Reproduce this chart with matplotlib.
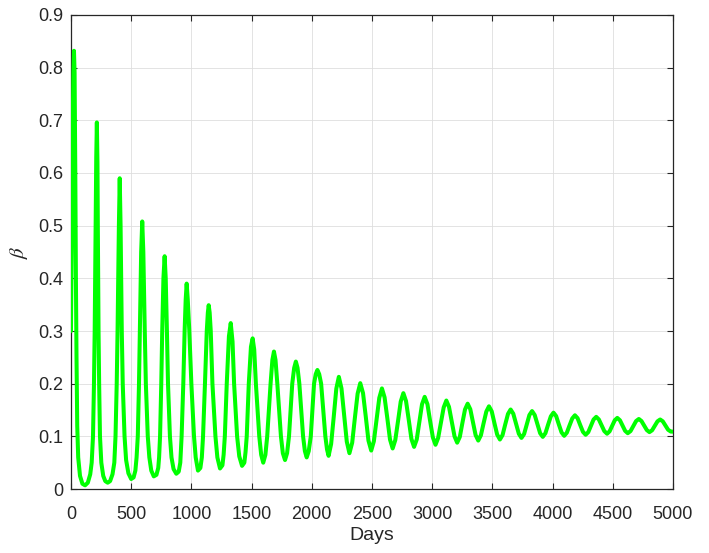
import numpy as np
import matplotlib
matplotlib.use("Agg")
import matplotlib.pyplot as plt

# ---- data ----
peak_day = [25, 215, 405, 592, 778, 961, 1144, 1327, 1509, 1686, 1868, 2047,
            2225, 2403, 2583, 2761, 2938, 3118, 3295, 3472, 3652, 3830, 4008,
            4186, 4363, 4538, 4717, 4894]
peak_beta = [0.832, 0.696, 0.590, 0.508, 0.442, 0.390, 0.349, 0.315, 0.286,
             0.261, 0.242, 0.226, 0.213, 0.201, 0.191, 0.182, 0.175, 0.168,
             0.162, 0.157, 0.151, 0.148, 0.145, 0.140, 0.137, 0.135, 0.133,
             0.132]

trough_day = [117, 305, 500, 688, 875, 1055, 1238, 1421, 1597, 1778, 1958,
              2140, 2313, 2494, 2672, 2850, 3028, 3208, 3383, 3563, 3742, 3919,
              4097, 4275, 4453, 4625, 4805, 4983]
trough_beta = [0.007, 0.012, 0.019, 0.024, 0.029, 0.035, 0.039, 0.044, 0.050,
               0.055, 0.060, 0.063, 0.068, 0.073, 0.077, 0.080, 0.084, 0.088,
               0.092, 0.094, 0.097, 0.099, 0.101, 0.103, 0.105, 0.106, 0.108,
               0.109]

flank_day = [
    0, 8, 15, 20, 30, 36, 41, 46, 52, 60, 75, 95,
    140, 160, 172, 183, 191, 197, 205, 210, 220, 223, 229, 234, 241, 252, 268, 285,
    325, 345, 360, 370, 380, 387, 398, 412, 422, 430, 445, 458, 477,
    520, 535, 545, 555, 565, 572, 583, 601, 613, 622, 638, 651, 667,
    710, 725, 732, 740, 750, 758, 768, 787, 797, 806, 822, 835, 852,
    895, 908, 919, 933, 944, 953, 970, 983, 1000, 1022, 1036,
    1075, 1087, 1097, 1113, 1128, 1137, 1152, 1161, 1175, 1200, 1216,
    1258, 1268, 1278, 1294, 1312, 1342, 1355, 1380, 1398,
    1440, 1450, 1460, 1477, 1495, 1522, 1536, 1564, 1580,
    1615, 1630, 1658, 1673, 1699, 1714, 1744, 1760,
    1795, 1811, 1838, 1854, 1882, 1897, 1928, 1943,
    1975, 1992, 2019, 2033, 2062, 2078, 2113, 2127,
    2161, 2183, 2204, 2247, 2269, 2291,
    2336, 2358, 2381, 2426, 2449, 2471,
    2516, 2539, 2561, 2605, 2628, 2650,
    2694, 2717, 2739, 2783, 2806, 2828,
    2872, 2894, 2916, 2961, 2983, 3006,
    3050, 3073, 3096, 3140, 3163, 3186,
    3230, 3251, 3273, 3317, 3339, 3361,
    3405, 3427, 3450, 3495, 3517, 3540,
    3585, 3607, 3630, 3674, 3697, 3720,
    3764, 3786, 3808, 3852, 3874, 3897,
    3941, 3963, 3986, 4030, 4052, 4075,
    4119, 4141, 4164, 4208, 4230, 4253,
    4297, 4319, 4341, 4385, 4408, 4430,
    4474, 4495, 4517, 4560, 4581, 4603,
    4648, 4671, 4694, 4739, 4761, 4783,
    4827, 4849, 4872, 4916, 4938, 4960,
    5000,
]
flank_beta = [
    0.30, 0.52, 0.70, 0.79, 0.79, 0.60, 0.40, 0.25, 0.12, 0.06, 0.025, 0.010,
    0.012, 0.028, 0.05, 0.10, 0.20, 0.30, 0.50, 0.63, 0.62, 0.50, 0.30, 0.20, 0.10, 0.05, 0.025, 0.015,
    0.015, 0.028, 0.05, 0.10, 0.20, 0.30, 0.50, 0.50, 0.30, 0.20, 0.10, 0.055, 0.03,
    0.022, 0.035, 0.06, 0.10, 0.20, 0.30, 0.45, 0.45, 0.30, 0.20, 0.10, 0.06, 0.035,
    0.027, 0.04, 0.06, 0.10, 0.20, 0.30, 0.40, 0.40, 0.30, 0.20, 0.10, 0.06, 0.038,
    0.033, 0.05, 0.10, 0.20, 0.30, 0.36, 0.36, 0.30, 0.20, 0.10, 0.06,
    0.04, 0.06, 0.10, 0.20, 0.30, 0.335, 0.335, 0.30, 0.20, 0.10, 0.06,
    0.045, 0.065, 0.10, 0.20, 0.29, 0.28, 0.20, 0.10, 0.062,
    0.05, 0.07, 0.10, 0.20, 0.27, 0.265, 0.20, 0.10, 0.065,
    0.065, 0.10, 0.20, 0.245, 0.245, 0.20, 0.10, 0.068,
    0.068, 0.10, 0.20, 0.23, 0.23, 0.20, 0.10, 0.072,
    0.072, 0.10, 0.20, 0.218, 0.218, 0.20, 0.10, 0.075,
    0.0855, 0.138, 0.1905, 0.191, 0.1405, 0.090,
    0.088, 0.1345, 0.181, 0.182, 0.137, 0.092,
    0.0907, 0.132, 0.173, 0.174, 0.134, 0.094,
    0.093, 0.1295, 0.166, 0.167, 0.131, 0.095,
    0.094, 0.1275, 0.161, 0.161, 0.1295, 0.098,
    0.097, 0.126, 0.155, 0.156, 0.128, 0.100,
    0.099, 0.125, 0.151, 0.1515, 0.127, 0.1025,
    0.102, 0.1245, 0.147, 0.1475, 0.1255, 0.1035,
    0.1025, 0.1225, 0.1425, 0.143, 0.124, 0.105,
    0.1045, 0.1225, 0.1405, 0.1405, 0.1235, 0.106,
    0.106, 0.122, 0.138, 0.1385, 0.123, 0.1075,
    0.107, 0.1205, 0.134, 0.1345, 0.1215, 0.1085,
    0.108, 0.120, 0.132, 0.132, 0.121, 0.110,
    0.1095, 0.120, 0.1305, 0.1305, 0.1205, 0.1105,
    0.110, 0.1195, 0.129, 0.129, 0.1205, 0.112,
    0.1115, 0.120, 0.1285, 0.1285, 0.1205, 0.1125,
    0.109,
]

x_ticks = [0, 500, 1000, 1500, 2000, 2500, 3000, 3500, 4000, 4500, 5000]
x_tick_labels = ["0", "500", "1000", "1500", "2000", "2500", "3000", "3500",
                 "4000", "4500", "5000"]
y_ticks = [0, 0.1, 0.2, 0.3, 0.4, 0.5, 0.6, 0.7, 0.8, 0.9]
y_tick_labels = ["0", "0.1", "0.2", "0.3", "0.4", "0.5", "0.6", "0.7", "0.8", "0.9"]

# ---- assemble the curve from the read points ----
days = np.array(peak_day + trough_day + flank_day, dtype=float)
beta = np.array(peak_beta + trough_beta + flank_beta, dtype=float)
order = np.argsort(days, kind="stable")
days, beta = days[order], beta[order]

plt.rcParams["font.family"] = ["Liberation Sans", "DejaVu Sans"]
plt.rcParams["mathtext.fontset"] = "stix"
txt = "#262626"

fig = plt.figure(figsize=(7.09, 5.53), dpi=100)
ax = fig.add_axes([0.1001, 0.1157, 0.8490, 0.8572])

ax.plot(days, beta, color="#00ff00", lw=2.9, solid_joinstyle="round",
        solid_capstyle="round", zorder=3)

ax.set_xlim(0, 5000)
ax.set_ylim(0, 0.9)
ax.set_xticks(x_ticks)
ax.set_xticklabels(x_tick_labels)
ax.set_yticks(y_ticks)
ax.set_yticklabels(y_tick_labels)

ax.grid(True, color="#dedede", lw=0.6)
ax.set_axisbelow(True)
for s in ax.spines.values():
    s.set_color(txt)
    s.set_linewidth(0.9)
ax.tick_params(axis="both", direction="in", length=4.3, width=0.8,
               colors=txt, labelsize=13, top=True, right=True)
ax.tick_params(axis="x", pad=12)
ax.tick_params(axis="y", pad=5.5)

ax.set_xlabel("Days", fontsize=14, color=txt, labelpad=3)
ax.set_ylabel(r"$\beta$", fontsize=15, color=txt, labelpad=6)

fig.savefig("out.png", dpi=100)
